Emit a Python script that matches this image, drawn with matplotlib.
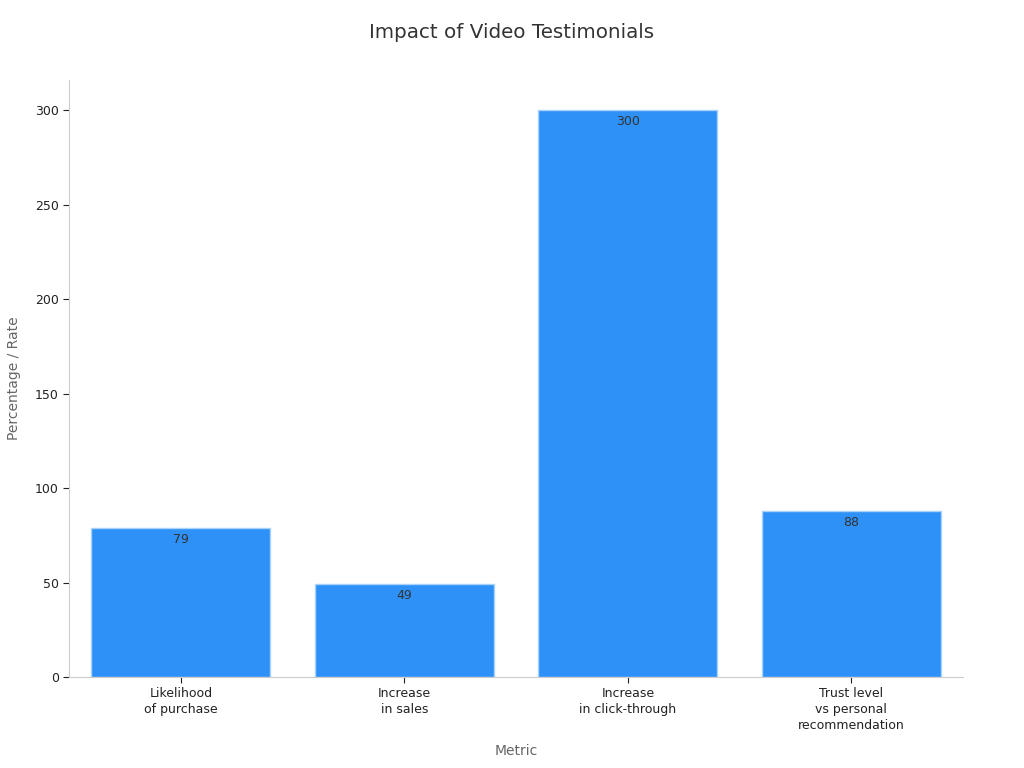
import matplotlib
matplotlib.use("Agg")
import matplotlib.pyplot as plt

categories = ["Likelihood\nof purchase", "Increase\nin sales", "Increase\nin click-through", "Trust level\nvs personal\nrecommendation"]
values = [79, 49, 300, 88]

fig = plt.figure(figsize=(10.24, 7.68), dpi=100)
ax = fig.add_axes([0.0675, 0.1185, 0.873, 0.7775])

x = list(range(len(categories)))
bars = ax.bar(x, values, width=0.8, color="#2e91f8", edgecolor="#a9d3fb", linewidth=1)
for b, v in zip(bars, values):
    ax.annotate(str(v), (b.get_x() + b.get_width() / 2, v), xytext=(0, -3.5),
                textcoords="offset points", ha="center", va="top", fontsize=9, color="#333333")

ax.set_xlim(-0.5, 3.5)
ax.set_ylim(0, 316)
ax.set_xticks(x)
ax.set_xticklabels(categories, fontsize=9, color="#222222", linespacing=1.3)
ax.set_yticks([0, 50, 100, 150, 200, 250, 300])
ax.tick_params(axis="y", labelsize=9, colors="#222222", length=4)
ax.tick_params(axis="x", length=4, colors="#222222")
for t in ax.get_yticklines() + ax.get_xticklines():
    t.set_color("#555555")

ax.spines["top"].set_visible(False)
ax.spines["right"].set_visible(False)
ax.spines["left"].set_color("#cccccc")
ax.spines["bottom"].set_color("#cccccc")

ax.set_xlabel("Metric", fontsize=10, color="#666666", labelpad=8)
ax.set_ylabel("Percentage / Rate", fontsize=10, color="#666666", labelpad=10)
fig.suptitle("Impact of Video Testimonials", fontsize=14.3, color="#333333", y=0.97)

fig.savefig("out.png", dpi=100)
